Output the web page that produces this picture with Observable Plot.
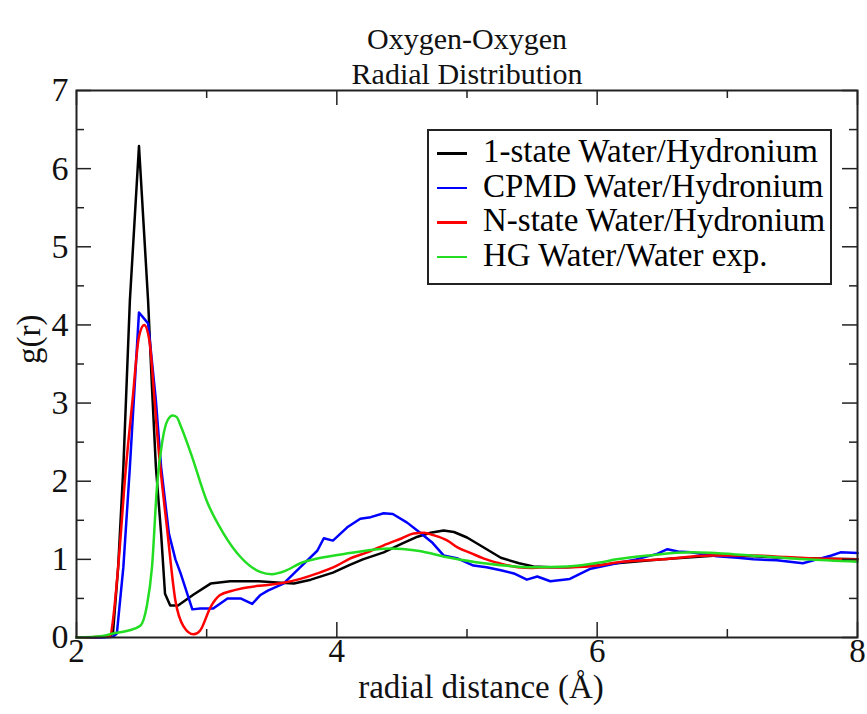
<!DOCTYPE html>
<html><head><meta charset="utf-8">
<script src="https://cdn.jsdelivr.net/npm/d3@7"></script>
<script src="https://cdn.jsdelivr.net/npm/@observablehq/plot@0.6"></script>
<style>
body{margin:0;background:#fff;}
#wrap{position:relative;width:867px;height:714px;font-family:"Liberation Serif","Times New Roman",serif;}
#legend{position:absolute;left:427px;top:129px;width:401px;height:149px;padding-top:3px;border:2px solid #222;background:#fff;box-sizing:content-box;}
.row{display:flex;align-items:center;height:34.5px;font-size:33px;line-height:34.5px;color:#000;white-space:nowrap;}
.sw{display:inline-block;width:30px;height:2.5px;margin-left:8px;margin-right:16px;position:relative;top:2px;}
</style>
</head><body>
<div id="wrap"></div>
<script>
// Series: 1-state Water/Hydronium (black)
const blackX = [2.0,2.1,2.2,2.25,2.28,2.32,2.36,2.41,2.48,2.55,2.58,2.61,2.65,2.68,2.72,2.78,2.9,3.03,3.18,3.4,3.57,3.67,3.8,3.97,4.1,4.2,4.36,4.5,4.62,4.72,4.82,4.9,5.0,5.1,5.26,5.4,5.51,5.64,5.77,6.0,6.15,6.5,6.92,7.2,7.43,7.7,8.0];
const blackY = [0,0,0.01,0.02,0.05,0.9,2.18,4.31,6.29,4.31,3.2,2.18,1.33,0.56,0.41,0.41,0.55,0.69,0.72,0.72,0.70,0.69,0.74,0.83,0.93,1.0,1.09,1.2,1.29,1.34,1.37,1.35,1.28,1.18,1.02,0.95,0.91,0.90,0.90,0.92,0.95,1.0,1.05,1.04,1.02,1.01,1.0];
// Series: CPMD Water/Hydronium (blue)
const blueX = [2.0,2.2,2.28,2.31,2.36,2.41,2.48,2.55,2.61,2.65,2.71,2.76,2.8,2.89,2.95,3.05,3.16,3.26,3.35,3.41,3.47,3.59,3.72,3.85,3.9,3.97,4.08,4.18,4.26,4.36,4.43,4.54,4.64,4.73,4.82,4.93,5.05,5.15,5.26,5.36,5.46,5.54,5.64,5.79,5.95,6.15,6.3,6.46,6.54,6.62,6.72,6.92,7.08,7.2,7.38,7.58,7.69,7.8,7.87,8.0];
const blueY = [0,0,0.01,0.05,0.9,2.18,4.16,4.02,3.03,2.18,1.33,1.0,0.82,0.36,0.37,0.37,0.5,0.5,0.43,0.54,0.6,0.69,0.9,1.11,1.27,1.24,1.41,1.52,1.54,1.59,1.58,1.47,1.34,1.22,1.05,1.01,0.92,0.9,0.86,0.82,0.74,0.78,0.72,0.75,0.88,0.95,1.0,1.07,1.13,1.1,1.09,1.04,1.02,1.0,0.99,0.95,1.0,1.05,1.09,1.08];
// Series: N-state Water/Hydronium (red)
const redX = [2.0,2.2,2.26,2.28,2.32,2.38,2.43,2.48,2.52,2.56,2.6,2.62,2.7,2.76,2.82,2.9,2.95,3.03,3.1,3.2,3.31,3.45,3.59,3.72,3.85,4.0,4.1,4.25,4.36,4.5,4.59,4.67,4.74,4.85,4.93,5.03,5.13,5.25,5.39,5.5,5.64,5.8,6.0,6.15,6.5,6.87,7.18,7.45,7.69,8.0];
const redY = [0,0.01,0.02,0.22,0.9,2.18,3.03,3.85,4.0,3.8,3.03,2.61,1.33,0.47,0.15,0.04,0.09,0.39,0.54,0.6,0.64,0.67,0.7,0.75,0.82,0.92,1.01,1.1,1.18,1.27,1.33,1.34,1.31,1.24,1.15,1.08,1.01,0.95,0.9,0.89,0.9,0.9,0.92,0.96,1.0,1.05,1.05,1.03,1.01,1.0];
// Series: HG Water/Water exp. (green)
const greenX = [2.0,2.2,2.28,2.4,2.49,2.54,2.58,2.62,2.66,2.7,2.74,2.77,2.8,2.88,3.0,3.13,3.26,3.41,3.5,3.6,3.72,3.85,4.1,4.41,4.62,4.87,5.13,5.51,5.77,6.02,6.15,6.4,6.72,7.18,7.6,8.0];
const greenY = [0,0.02,0.05,0.09,0.15,0.4,0.9,1.97,2.52,2.78,2.84,2.82,2.71,2.35,1.75,1.33,1.03,0.84,0.81,0.85,0.95,1.01,1.08,1.14,1.11,1.02,0.95,0.9,0.91,0.96,1.0,1.05,1.09,1.05,1.0,0.97];

const seriesNames = ["1-state Water/Hydronium","CPMD Water/Hydronium","N-state Water/Hydronium","HG Water/Water exp."];
const seriesColors = ["#000000","#0000ff","#ff0000","#22dd22"];
const seriesCurves = ["linear","linear","monotone-x","monotone-x"];
const xMajor = [2,4,6,8];
const xMinor = [3,5,7];
const yMajor = [0,1,2,3,4,5,6,7];
const yMinor = [0.5,1.5,2.5,3.5,4.5,5.5,6.5];
const titleLines = ["Oxygen-Oxygen","Radial Distribution"];
const xLabel = "radial distance (Å)";
const yLabel = "g(r)";

const W = 867, H = 714, mL = 76, mR = 10, mT = 90, mB = 77;
const PW = W - mL - mR, PH = H - mT - mB;

const toRows = (xs, ys) => xs.map((x, i) => ({x, y: ys[i]}));
const lines = [[blackX, blackY],[blueX, blueY],[redX, redY],[greenX, greenY]];

const tickStyle = {stroke: "#222", strokeWidth: 1.5};
const plot = Plot.plot({
  width: W, height: H,
  marginLeft: mL, marginRight: mR, marginTop: mT, marginBottom: mB,
  style: {fontFamily: "'Liberation Serif', 'Times New Roman', serif", background: "white", color: "#111", fontSize: "33px"},
  x: {domain: [2, 8]},
  y: {domain: [0, 7]},
  marks: [
    ...lines.map(([xs, ys], i) => Plot.line(toRows(xs, ys), {x: "x", y: "y", stroke: seriesColors[i], strokeWidth: 2.5, curve: seriesCurves[i]})),
    Plot.tickX(xMajor, {insetTop: PH - 15, ...tickStyle}),
    Plot.tickX(xMinor, {insetTop: PH - 8, ...tickStyle}),
    Plot.tickX(xMajor, {insetBottom: PH - 15, ...tickStyle}),
    Plot.tickX(xMinor, {insetBottom: PH - 8, ...tickStyle}),
    Plot.tickY(yMajor, {insetRight: PW - 15, ...tickStyle}),
    Plot.tickY(yMinor, {insetRight: PW - 8, ...tickStyle}),
    Plot.tickY(yMajor, {insetLeft: PW - 15, ...tickStyle}),
    Plot.tickY(yMinor, {insetLeft: PW - 8, ...tickStyle}),
    Plot.frame({stroke: "#222", strokeWidth: 2}),
    Plot.axisX({ticks: xMajor, tickSize: 0, tickPadding: 1, fontSize: 33, label: null, tickFormat: d => String(d)}),
    Plot.axisY({ticks: yMajor, tickSize: 0, tickPadding: 8, fontSize: 34, label: null, tickFormat: d => String(d)}),
    Plot.text([titleLines[0]], {frameAnchor: "top", dy: -63, fontSize: 30, fill: "#111"}),
    Plot.text([titleLines[1]], {frameAnchor: "top", dy: -28, fontSize: 30, fill: "#111"}),
    Plot.text([xLabel], {frameAnchor: "bottom", dy: 60, dx: 14, fontSize: 33, fill: "#111"}),
    Plot.text([yLabel], {frameAnchor: "left", dx: -47, rotate: -90, fontSize: 33, fill: "#111"})
  ]
});
const wrap = document.getElementById("wrap");
wrap.appendChild(plot);

const legend = document.createElement("div");
legend.id = "legend";
seriesNames.forEach((name, i) => {
  const row = document.createElement("div");
  row.className = "row";
  const sw = document.createElement("span");
  sw.className = "sw";
  sw.style.background = seriesColors[i];
  const t = document.createElement("span");
  t.textContent = name;
  row.appendChild(sw); row.appendChild(t);
  legend.appendChild(row);
});
wrap.appendChild(legend);
</script>
</body></html>
